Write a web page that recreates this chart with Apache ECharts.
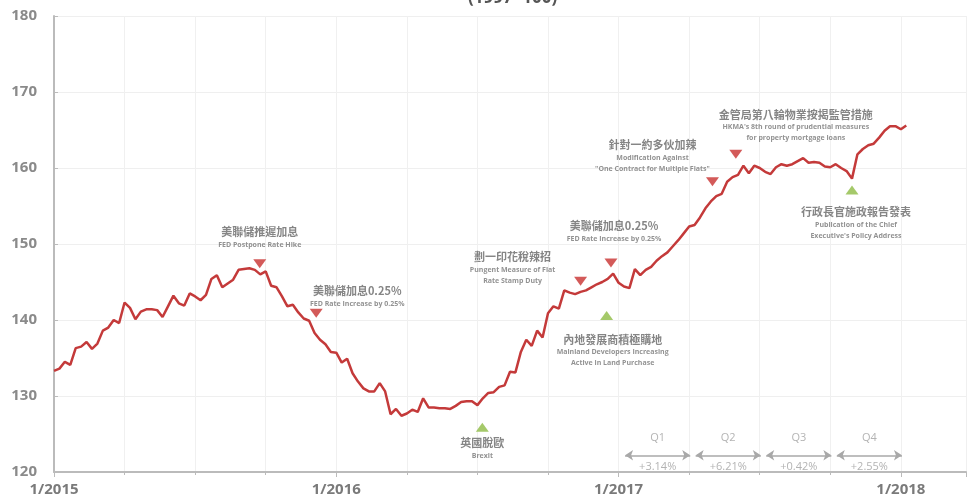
<!DOCTYPE html>
<html>
<head>
<meta charset="utf-8">
<script src="https://cdn.jsdelivr.net/npm/echarts@6/dist/echarts.min.js"></script>
<style>
  html, body { margin: 0; padding: 0; background: #fff; }
  #chart { width: 969px; height: 501px; }
</style>
</head>
<body>
<div id="chart"></div>
<script>
// Weekly index values (1997 = 100), first week of 2015 onward
const indexValues = [
  133.3, 133.6, 134.5, 134.1, 136.3, 136.5, 137.1, 136.2, 136.9, 138.6,
  139.0, 140.0, 139.6, 142.3, 141.6, 140.1, 141.1, 141.4, 141.4, 141.3,
  140.4, 141.8, 143.2, 142.2, 141.9, 143.5, 143.1, 142.6, 143.3, 145.4,
  145.9, 144.3, 144.8, 145.3, 146.6, 146.7, 146.8, 146.6, 146.0, 146.4,
  144.5, 144.3, 143.1, 141.8, 142.0, 141.0, 140.2, 139.9, 138.3, 137.4,
  136.8, 135.8, 135.7, 134.4, 134.9, 133.0, 131.9, 131.0, 130.6, 130.6,
  131.7, 130.6, 127.6, 128.3, 127.4, 127.7, 128.2, 127.9, 129.7, 128.5,
  128.5, 128.4, 128.4, 128.3, 128.7, 129.2, 129.3, 129.3, 128.8, 129.7,
  130.4, 130.5, 131.2, 131.4, 133.2, 133.1, 135.8, 137.4, 136.6, 138.6,
  137.7, 140.9, 141.8, 141.5, 143.9, 143.6, 143.4, 143.7, 143.9, 144.3,
  144.7, 145.0, 145.4, 146.1, 144.9, 144.4, 144.2, 146.7, 145.9, 146.6,
  147.0, 147.8, 148.4, 148.9, 149.7, 150.5, 151.4, 152.3, 152.5, 153.5,
  154.7, 155.6, 156.3, 156.6, 158.2, 158.8, 159.1, 160.3, 159.3, 160.3,
  160.0, 159.5, 159.2, 160.1, 160.5, 160.3, 160.5, 160.9, 161.3, 160.7,
  160.8, 160.7, 160.2, 160.1, 160.5, 160.0, 159.6, 158.6, 161.8, 162.5,
  163.0, 163.2, 164.0, 164.9, 165.5, 165.5, 165.1, 165.6
];

// Year-start tick labels (one every 52 weeks)
const yearLabels = ['1/2015', '1/2016', '1/2017', '1/2018'];
const weeksPerYear = 52;

// Event markers: week index, index level, direction, Chinese title, English lines
const eventWeeks  = [37.9, 48.3, 78.9, 97.0, 102.6, 101.8, 121.3, 125.6, 147.0];
const eventLevels = [147.4, 140.9, 125.9, 145.1, 147.5, 140.6, 158.2, 161.8, 157.1];
const eventKinds  = ['down', 'down', 'up', 'down', 'down', 'up', 'down', 'down', 'up'];
const eventTitles = [
  '美聯儲推遲加息', '美聯儲加息0.25%', '英國脫歐', '劃一印花稅辣招', '美聯儲加息0.25%',
  '內地發展商積極購地', '針對一約多伙加辣', '金管局第八輪物業按揭監管措施', '行政長官施政報告發表'
];
const eventNotes = [
  ['FED Postpone Rate Hike'],
  ['FED Rate Increase by 0.25%'],
  ['Brexit'],
  ['Pungent Measure of Flat', 'Rate Stamp Duty'],
  ['FED Rate Increase by 0.25%'],
  ['Mainland Developers Increasing', 'Active in Land Purchase'],
  ['Modification Against', '"One Contract for Multiple Flats"'],
  ["HKMA's 8th round of prudential measures", 'for property mortgage loans'],
  ['Publication of the Chief', "Executive's Policy Address"]
];
// Label offsets (px) of each event's text block from its marker
const eventLabelOffsets = [[0, -26], [41, -17], [0, 21], [-68, -13], [3, -32], [6, 35], [-60, -26], [60, -29], [4, 33]];

// 2017 quarterly changes
const quarterNames   = ['Q1', 'Q2', 'Q3', 'Q4'];
const quarterChanges = ['+3.14%', '+6.21%', '+0.42%', '+2.55%'];
const quarterStartWeek = 104;
const weeksPerQuarter = 13;

const chart = echarts.init(document.getElementById('chart'), null, { renderer: 'canvas' });

const lineData = indexValues.map((v, i) => [i, v]);

const eventData = eventWeeks.map((w, i) => ({
  value: [w, eventLevels[i]],
  symbolRotate: eventKinds[i] === 'down' ? 180 : 0,
  itemStyle: { color: eventKinds[i] === 'down' ? '#c8312f' : '#8fbb45' },
  label: {
    offset: eventLabelOffsets[i],
    formatter: '{cn|' + eventTitles[i] + '}' + eventNotes[i].map(t => '\n{en|' + t + '}').join('')
  }
}));

// Arrow rows sit just above the x axis
const arrowLevel = 122.2;
const qLabelLevel = 124.5;
const pctLevel = 120.65;
const arrowData = quarterNames.map((q, i) => {
  const s = quarterStartWeek + i * weeksPerQuarter;
  return { coords: [[s + 1.2, arrowLevel], [s + weeksPerQuarter + 0.2, arrowLevel]] };
});
const qLabelData = quarterNames.map((q, i) => ({
  value: [quarterStartWeek + i * weeksPerQuarter + weeksPerQuarter / 2 + 0.7, qLabelLevel],
  label: { formatter: q }
}));
const pctData = quarterChanges.map((p, i) => ({
  value: [quarterStartWeek + i * weeksPerQuarter + weeksPerQuarter / 2 + 0.7, pctLevel],
  label: { formatter: p }
}));

const cjk = '"Noto Sans CJK TC", "Noto Sans", sans-serif';

chart.setOption({
  animation: false,
  backgroundColor: '#ffffff',
  graphic: [{
    type: 'text',
    left: 468, top: -10,
    style: { text: '(1997=100)', font: 'bold 17px "Open Sans", sans-serif', fill: '#555' }
  }],
  grid: { left: 54, right: 3, top: 16, bottom: 29 },
  xAxis: {
    type: 'value',
    min: 0, max: 168, interval: weeksPerYear,
    axisLine: { lineStyle: { color: '#bbbbbb', width: 2 } },
    axisTick: { show: true, length: 5, inside: false, lineStyle: { color: '#bbbbbb' } },
    minorTick: { show: true, splitNumber: 4, length: 3, lineStyle: { color: '#bbbbbb' } },
    splitLine: { show: true, lineStyle: { color: '#f0f0f0', width: 1 } },
    minorSplitLine: { show: true, lineStyle: { color: '#f0f0f0', width: 1 } },
    axisLabel: {
      margin: 10,
      color: '#7a7a7a',
      fontSize: 15, fontWeight: 'bold', fontFamily: '"Open Sans", sans-serif',
      formatter: v => (v % weeksPerYear === 0 && v / weeksPerYear < yearLabels.length) ? yearLabels[v / weeksPerYear] : ''
    }
  },
  yAxis: {
    type: 'value',
    min: 120, max: 180, interval: 10,
    axisLine: { show: true, lineStyle: { color: '#bbbbbb', width: 2 } },
    axisTick: { show: true, inside: true, length: 4, lineStyle: { color: '#bbbbbb' } },
    splitLine: { show: true, lineStyle: { color: '#efefef', width: 1 } },
    axisLabel: {
      margin: 17,
      color: '#8a8a8a',
      fontSize: 15, fontWeight: 'bold', fontFamily: '"Open Sans", sans-serif'
    }
  },
  series: [
    {
      type: 'line',
      data: lineData,
      showSymbol: false,
      lineStyle: { color: '#c43a3a', width: 2.5 },
      z: 3
    },
    {
      type: 'scatter',
      data: eventData,
      symbol: 'triangle',
      symbolSize: [13, 9],
      z: 4,
      label: {
        show: true,
        position: 'inside',
        align: 'center',
        verticalAlign: 'middle',
        rich: {
          cn: { fontSize: 11, lineHeight: 15, color: '#666', fontWeight: 'bold', fontFamily: cjk },
          en: { fontSize: 7, lineHeight: 11, color: '#777', fontWeight: 'bold', fontFamily: '"Open Sans", sans-serif' }
        }
      }
    },
    {
      type: 'lines',
      coordinateSystem: 'cartesian2d',
      data: arrowData,
      symbol: ['arrow', 'arrow'],
      symbolSize: 8,
      lineStyle: { color: '#a8a8a8', width: 1.5, opacity: 1 },
      z: 2
    },
    {
      type: 'scatter',
      data: qLabelData,
      symbolSize: 1,
      itemStyle: { color: 'transparent' },
      label: { show: true, position: 'inside', color: '#a0a0a0', fontSize: 11, fontFamily: '"Open Sans", sans-serif' }
    },
    {
      type: 'scatter',
      data: pctData,
      symbolSize: 1,
      itemStyle: { color: 'transparent' },
      label: { show: true, position: 'inside', color: '#a0a0a0', fontSize: 11, fontFamily: '"Open Sans", sans-serif' }
    }
  ]
});
</script>
</body>
</html>
